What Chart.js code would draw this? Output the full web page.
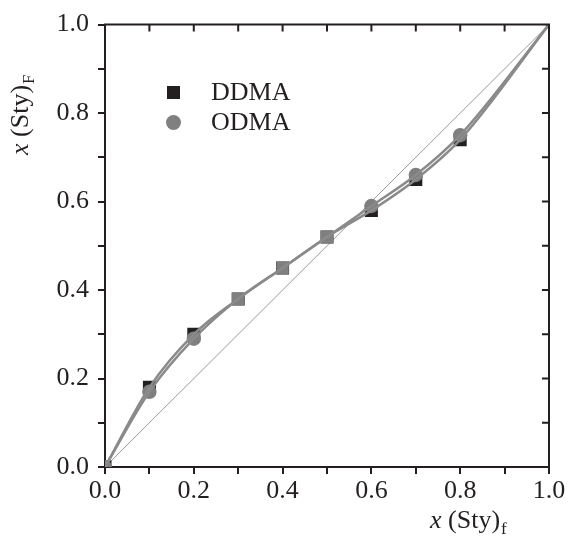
<!DOCTYPE html>
<html lang="en">
<head>
  <meta charset="UTF-8" />
  <title>Copolymer composition</title>
  <script src="https://cdn.jsdelivr.net/npm/chart.js"></script>
  <style>
    body {
      margin: 0;
      background: #ffffff;
      font-family: 'Liberation Serif', 'Times New Roman', Times, serif;
    }

    .chart-box {
      width: 571px;
      height: 542px;
    }
  </style>
</head>
<body>

  <div class="chart-box">
    <canvas id="compChart" width="571" height="542"></canvas>
  </div>

  <script>
    // feed fraction of styrene, x(Sty)f
    const feedFractions = [0.0, 0.1, 0.2, 0.3, 0.4, 0.5, 0.6, 0.7, 0.8, 1.0];

    // copolymer fraction of styrene, x(Sty)F
    const ddmaValues = [0.0, 0.18, 0.30, 0.38, 0.45, 0.52, 0.58, 0.65, 0.74, 1.0];
    const odmaValues = [0.0, 0.17, 0.29, 0.38, 0.45, 0.52, 0.59, 0.66, 0.75, 1.0];

    // azeotrope reference line x(Sty)F = x(Sty)f
    const diagonal = [0.0, 1.0];

    const tickLabels = ["0.0", "0.2", "0.4", "0.6", "0.8", "1.0"];

    const SERIF = "'Liberation Serif', 'Times New Roman', Times, serif";
    const CURVE_GREY = "#8a8a8a";

    function toPoints(xs, ys) {
      return xs.map((x, i) => ({ x: x, y: ys[i] }));
    }

    function tickText(value) {
      const s = value.toFixed(1);
      return tickLabels.includes(s) ? s : "";
    }

    // mirrored inward ticks on top and right, legend, axis titles
    const framePlugin = {
      id: "frame",
      afterDraw(chart) {
        const ctx = chart.ctx;
        const a = chart.chartArea;
        const xs = chart.scales.x;
        const ys = chart.scales.y;
        ctx.save();

        ctx.strokeStyle = "#231f20";
        ctx.lineWidth = 2;
        ctx.beginPath();
        ctx.moveTo(a.left - 1, a.top);
        ctx.lineTo(a.right, a.top);
        ctx.lineTo(a.right, a.bottom + 1);
        for (let i = 0; i <= 10; i++) {
          const px = xs.getPixelForValue(i / 10);
          ctx.moveTo(px, a.top);
          ctx.lineTo(px, a.top + 7);
          const py = ys.getPixelForValue(i / 10);
          ctx.moveTo(a.right, py);
          ctx.lineTo(a.right - 7, py);
        }
        ctx.stroke();

        // legend
        ctx.fillStyle = "#231f20";
        ctx.fillRect(167, 86, 13, 13);
        ctx.fillStyle = "#808080";
        ctx.beginPath();
        ctx.arc(173.5, 122.5, 7.5, 0, Math.PI * 2);
        ctx.fill();

        ctx.fillStyle = "#231f20";
        ctx.font = "26px " + SERIF;
        ctx.textBaseline = "middle";
        ctx.textAlign = "left";
        ctx.fillText("DDMA", 211, 93);
        ctx.fillText("ODMA", 211, 123);

        // x axis title
        ctx.textBaseline = "alphabetic";
        let x = 430;
        const by = 528;
        ctx.font = "italic 26px " + SERIF;
        ctx.fillText("x", x, by);
        x += ctx.measureText("x ").width;
        ctx.font = "26px " + SERIF;
        ctx.fillText("(Sty)", x, by);
        x += ctx.measureText("(Sty)").width;
        ctx.font = "17px " + SERIF;
        ctx.fillText("f", x + 1, by + 6);

        // y axis title, rotated
        ctx.translate(28, 155);
        ctx.rotate(-Math.PI / 2);
        let t = 0;
        ctx.font = "italic 26px " + SERIF;
        ctx.fillText("x", t, 0);
        t += ctx.measureText("x ").width;
        ctx.font = "26px " + SERIF;
        ctx.fillText("(Sty)", t, 0);
        t += ctx.measureText("(Sty)").width;
        ctx.font = "17px " + SERIF;
        ctx.fillText("F", t + 1, 6);

        ctx.restore();
      }
    };

    const axisFont = { family: SERIF, size: 26 };

    function drawChart() {
      const ctx = document.getElementById("compChart").getContext("2d");

      new Chart(ctx, {
        type: "scatter",
        data: {
          datasets: [
            {
              label: "diagonal",
              data: toPoints(diagonal, diagonal),
              showLine: true,
              borderColor: "#9a9a9a",
              borderWidth: 1,
              pointRadius: 0,
              order: 5
            },
            {
              label: "DDMA fit",
              data: toPoints(feedFractions, ddmaValues),
              showLine: true,
              cubicInterpolationMode: "monotone",
              borderColor: CURVE_GREY,
              borderWidth: 2.5,
              pointRadius: 0,
              order: 1
            },
            {
              label: "ODMA fit",
              data: toPoints(feedFractions, odmaValues),
              showLine: true,
              cubicInterpolationMode: "monotone",
              borderColor: CURVE_GREY,
              borderWidth: 2.5,
              pointRadius: 0,
              order: 2
            },
            {
              label: "DDMA",
              data: toPoints(feedFractions, ddmaValues),
              pointStyle: "rect",
              pointRadius: [9.2, 9.2, 9.2, 9.2, 9.2, 9.2, 9.2, 9.2, 9.2, 4.5],
              pointBackgroundColor: ["#231f20", "#231f20", "#231f20", "#231f20", "#231f20",
                "#231f20", "#231f20", "#231f20", "#231f20", "#3c8c7c"],
              pointBorderWidth: 0,
              order: 4
            },
            {
              label: "ODMA",
              data: toPoints(feedFractions, odmaValues),
              pointStyle: ["circle", "circle", "circle", "rect", "rect", "rect",
                "circle", "circle", "circle", "circle"],
              pointRadius: [7, 7.2, 7.2, 8.8, 8.8, 8.8, 7.2, 7.2, 7.2, 0],
              pointBackgroundColor: "#7f7f7f",
              pointBorderWidth: 0,
              order: 3
            }
          ]
        },
        options: {
          responsive: false,
          animation: false,
          layout: {
            padding: { top: 22, right: 22, left: 0, bottom: 0 }
          },
          plugins: {
            legend: { display: false },
            tooltip: { enabled: false }
          },
          scales: {
            x: {
              type: "linear",
              min: 0,
              max: 1,
              afterFit(scale) { scale.height = 75; },
              border: { color: "#231f20", width: 2 },
              grid: {
                drawOnChartArea: false,
                tickLength: 7,
                tickColor: "#231f20",
                lineWidth: 2
              },
              ticks: {
                stepSize: 0.1,
                autoSkip: false,
                maxRotation: 0,
                padding: 2,
                color: "#231f20",
                font: axisFont,
                callback: tickText
              }
            },
            y: {
              type: "linear",
              min: 0,
              max: 1,
              afterFit(scale) { scale.width = 105; },
              border: { color: "#231f20", width: 2 },
              grid: {
                drawOnChartArea: false,
                tickLength: 7,
                tickColor: "#231f20",
                lineWidth: 2
              },
              ticks: {
                stepSize: 0.1,
                autoSkip: false,
                padding: 9,
                color: "#231f20",
                font: axisFont,
                callback: tickText
              }
            }
          }
        },
        plugins: [framePlugin]
      });
    }

    // make sure the serif face is ready before the canvas text is drawn
    Promise.all([
      document.fonts.load("26px 'Liberation Serif'"),
      document.fonts.load("italic 26px 'Liberation Serif'")
    ]).then(drawChart, drawChart);
  </script>
</body>
</html>
